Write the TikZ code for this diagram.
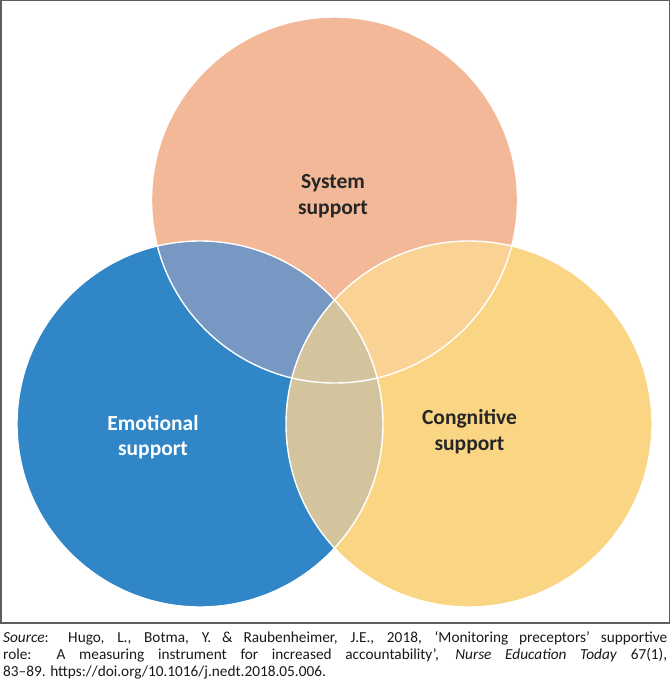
\documentclass[tikz,border=0pt]{standalone}
\usepackage{fontspec}
\setmainfont{Carlito}
\definecolor{salmon}{HTML}{F2B897}
\definecolor{bluec}{HTML}{3186C7}
\definecolor{yellowc}{HTML}{FAD584}
\definecolor{bluesal}{HTML}{7698C3}
\definecolor{salyel}{HTML}{F9D294}
\definecolor{tanc}{HTML}{D4C49E}
\definecolor{darktext}{HTML}{262626}
\definecolor{framec}{HTML}{5E5E5E}
\begin{document}
\begin{tikzpicture}[x=1pt,y=-1pt,
  lbl/.style={font=\fontsize{21.5}{25.5}\selectfont\bfseries, align=center, inner sep=0pt, anchor=base},
  outline/.style={draw=white, line width=1.4pt}]
\useasboundingbox (0,0) rectangle (670,690);
\coordinate (A) at (334.5,200);
\coordinate (B) at (200,424);
\coordinate (C) at (469,424);
\def\R{183}
% base fills
\fill[salmon] (A) circle[radius=\R];
\fill[bluec] (B) circle[radius=\R];
\fill[yellowc] (C) circle[radius=\R];
% pairwise overlaps
\begin{scope}
  \clip (A) circle[radius=\R];
  \fill[bluesal] (B) circle[radius=\R];
  \fill[salyel] (C) circle[radius=\R];
\end{scope}
\begin{scope}
  \clip (B) circle[radius=\R];
  \fill[tanc] (C) circle[radius=\R];
\end{scope}
% white outlines
\draw[outline] (A) circle[radius=\R];
\draw[outline] (B) circle[radius=\R];
\draw[outline] (C) circle[radius=\R];
% labels (anchor base = last line baseline)
\node[lbl, text=darktext] (sys) at (333,214) {System\\support};
\node[lbl, text=white] (emo) at (153,455.5) {Emotional\\support};
\node[lbl, text=darktext] (cog) at (469.5,450) {Congnitive\\support};
% frame
\draw[framec, line width=1.5pt] (0.75,0.75) rectangle (669.25,623) coordinate (frameSE);
% source
\node[anchor=base west, inner sep=0pt, text width=664pt, align=justify,
  font=\fontsize{15.3}{17}\selectfont, text=black!90] (src) at (3,642)
  {\emph{Source}: Hugo, L., Botma, Y. \& Raubenheimer, J.E., 2018, ‘Monitoring preceptors’ supportive\linebreak
   role: A measuring instrument for increased accountability’, \emph{Nurse Education Today} 67(1),\linebreak
   83–89. https://doi.org/10.1016/j.nedt.2018.05.006.};
\end{tikzpicture}
\end{document}
